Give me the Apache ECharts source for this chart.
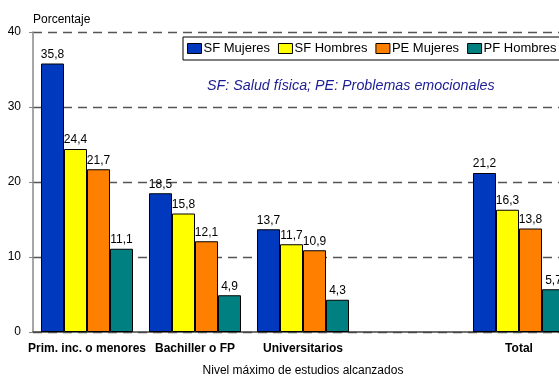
<!DOCTYPE html>
<html>
<head>
<meta charset="utf-8">
<script src="https://cdn.jsdelivr.net/npm/echarts@6/dist/echarts.min.js"></script>
<style>
  html, body { margin: 0; padding: 0; background: #fff; }
  #chart { width: 559px; height: 379px; }
</style>
</head>
<body>
<div id="chart"></div>
<script>
// Education levels (the blank slot leaves a gap before the total)
const categories = ['Prim. inc. o menores', 'Bachiller o FP', 'Universitarios', '', 'Total'];
const seriesNames = ['SF Mujeres', 'SF Hombres', 'PE Mujeres', 'PF Hombres'];
const sfMujeres = [35.8, 18.5, 13.7, null, 21.2];
const sfHombres = [24.4, 15.8, 11.7, null, 16.3];
const peMujeres = [21.7, 12.1, 10.9, null, 13.8];
const pfHombres = [11.1, 4.9, 4.3, null, 5.7];
const seriesColors = ['#0039BD', '#FFFF00', '#FF8000', '#008080'];
const yTicks = { min: 0, max: 40, interval: 10 };

const FONT = 'Arial, "Liberation Sans", sans-serif';
const values = [sfMujeres, sfHombres, peMujeres, pfHombres];

const chart = echarts.init(document.getElementById('chart'), null, { renderer: 'canvas' });

chart.setOption({
  animation: false,
  backgroundColor: '#fff',
  textStyle: { fontFamily: FONT },
  title: {
    text: 'SF: Salud física; PE: Problemas emocionales',
    left: 202, top: 74,
    textStyle: { fontFamily: FONT, fontSize: 14.3, fontStyle: 'italic', fontWeight: 'normal', color: '#1C1C94' }
  },
  legend: {
    left: 183, top: 37,
    width: 480,
    padding: [5, 14, 5, 4],
    itemWidth: 14, itemHeight: 10, itemGap: 8,
    borderColor: '#000', borderWidth: 1,
    backgroundColor: '#fff',
    icon: 'rect',
    itemStyle: { borderColor: '#000', borderWidth: 1 },
    textStyle: { fontFamily: FONT, fontSize: 13, color: '#000', padding: [0, 0, 0, -3] },
    data: seriesNames
  },
  // the plot runs past the right edge, so the last group is cut off
  grid: { left: 33, width: 540, top: 32, bottom: 47, containLabel: false, outerBoundsMode: 'none' },
  xAxis: {
    type: 'category',
    data: categories,
    name: 'Nivel máximo de estudios alcanzados',
    nameLocation: 'middle',
    nameGap: 33,
    nameTextStyle: { fontFamily: FONT, fontSize: 12, color: '#000' },
    axisLine: { lineStyle: { color: '#444', width: 1.5 } },
    axisTick: { show: false },
    axisLabel: { interval: 0, margin: 11, fontFamily: FONT, fontSize: 12, fontWeight: 'bold', color: '#000' }
  },
  yAxis: {
    type: 'value',
    min: yTicks.min, max: yTicks.max, interval: yTicks.interval,
    name: 'Porcentaje',
    nameLocation: 'end',
    nameGap: 6,
    nameTextStyle: { fontFamily: FONT, fontSize: 12, color: '#000', align: 'left' },
    axisLine: { show: true, lineStyle: { color: '#888', width: 1.5 } },
    axisTick: { show: true, length: 4, lineStyle: { color: '#888' } },
    axisLabel: { margin: 12, fontFamily: FONT, fontSize: 12, color: '#000' },
    splitLine: { show: true, lineStyle: { color: '#555', width: 1.3, type: [9, 6] } }
  },
  series: seriesNames.map((name, i) => ({
    name,
    type: 'bar',
    data: values[i],
    barGap: 0,
    barCategoryGap: '14.8%',
    itemStyle: { color: seriesColors[i], borderColor: '#000', borderWidth: 1 },
    label: {
      show: true,
      position: 'top',
      distance: 3,
      fontFamily: FONT,
      fontSize: 12,
      color: '#000',
      formatter: p => (p.value == null ? '' : p.value.toFixed(1).replace('.', ','))
    }
  }))
});
</script>
</body>
</html>
